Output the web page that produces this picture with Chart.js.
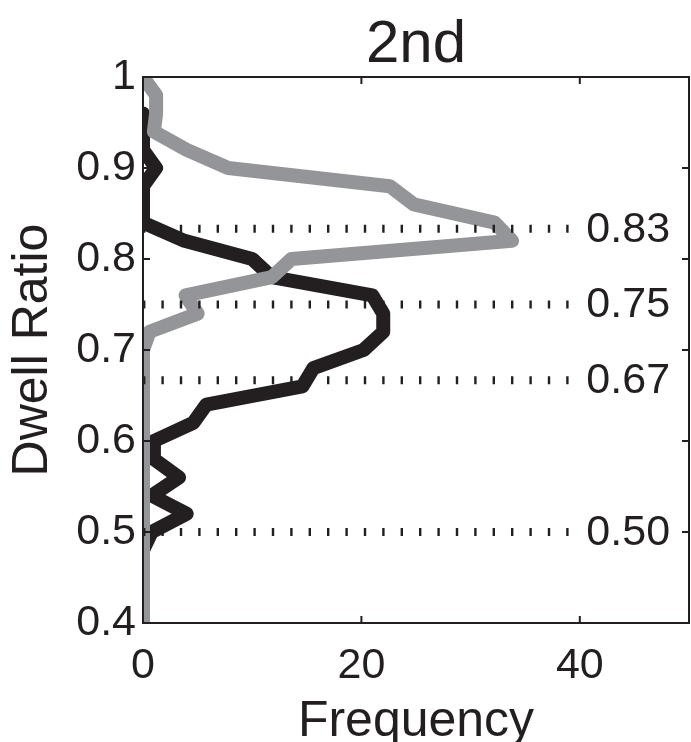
<!DOCTYPE html>
<html>
<head>
<meta charset="utf-8">
<script src="https://cdn.jsdelivr.net/npm/chart.js@4/dist/chart.umd.min.js"></script>
<style>
html, body { margin: 0; padding: 0; background: #fff; }
canvas { display: block; }
</style>
</head>
<body>
<canvas id="dwellChart" width="691" height="742"></canvas>
<script>
// dwell ratio bins (y) and frequency per bin (x) for the two traces
const dwellBins = [1.00, 0.98, 0.96, 0.94, 0.92, 0.90, 0.88, 0.86, 0.84, 0.82,
  0.80, 0.78, 0.76, 0.74, 0.72, 0.70, 0.68, 0.66, 0.64, 0.62,
  0.60, 0.58, 0.56, 0.54, 0.52, 0.50, 0.48, 0.46, 0.44, 0.42, 0.40]

const lightFreq = [0, 1.2, 1.2, 1.0, 4.0, 7.8, 22.6, 24.8, 32.2, 33.8,
  13.6, 11.8, 3.9, 5.0, 0.6, 0, 0, 0, 0, 0,
  0, 0, 0, 0, 0, 0, 0, 0, 0, 0, 0]

const darkFreq = [null, null, 0, 0, 0, 1.2, 0, 0, 0, 3.8,
  10.0, 11.8, 21.0, 22.0, 22.0, 20.2, 15.6, 14.6, 5.8, 4.6,
  1.0, 1.0, 3.3, 0.8, 4.0, 0.8, 0, 0, 0, 0, 0]

// reference ratios marked with dotted lines
const refRatios = [5 / 6, 3 / 4, 2 / 3, 1 / 2]
const refLineEnd = 39.3

const xTicks = [0, 20, 40]
const yTicks = [0.4, 0.5, 0.6, 0.7, 0.8, 0.9, 1]

const INK = "#231f20"
const GREY = "#939598"
const FONT = "'Liberation Sans', Arial, Helvetica, sans-serif"

function toPoints(freq){
  const pts = []
  dwellBins.forEach((r, i) => {
    if(freq[i] !== null){ pts.push({x: freq[i], y: r}) }
  })
  return pts
}

const refSets = refRatios.map(r => ({
  data: [{x: 0, y: r}, {x: refLineEnd, y: r}],
  showLine: true,
  borderColor: INK,
  borderWidth: 8,
  borderDash: [2.4, 16],
  borderCapStyle: "butt",
  pointRadius: 0,
  order: 0
}))

// box, inward ticks, title and ratio labels
const framePlugin = {
  id: "frame",
  afterDatasetsDraw(chart){
    const ctx = chart.ctx
    const a = chart.chartArea
    const xs = chart.scales.x
    const ys = chart.scales.y
    const tl = 7

    ctx.save()
    ctx.strokeStyle = INK
    ctx.lineWidth = 2
    ctx.strokeRect(a.left, a.top, a.right - a.left, a.bottom - a.top)

    ctx.beginPath()
    xTicks.forEach(v => {
      const px = xs.getPixelForValue(v)
      ctx.moveTo(px, a.bottom); ctx.lineTo(px, a.bottom - tl)
      ctx.moveTo(px, a.top); ctx.lineTo(px, a.top + tl)
    })
    yTicks.forEach(v => {
      const py = ys.getPixelForValue(v)
      ctx.moveTo(a.left, py); ctx.lineTo(a.left + tl, py)
      ctx.moveTo(a.right, py); ctx.lineTo(a.right - tl, py)
    })
    ctx.stroke()

    ctx.fillStyle = INK
    ctx.font = "43px " + FONT
    ctx.textAlign = "left"
    ctx.textBaseline = "middle"
    refRatios.forEach(r => {
      ctx.fillText(r.toFixed(2), xs.getPixelForValue(40.6), ys.getPixelForValue(r) + 1)
    })

    ctx.font = "60px " + FONT
    ctx.textAlign = "center"
    ctx.textBaseline = "alphabetic"
    ctx.fillText("2nd", (a.left + a.right) / 2, 62)
    ctx.restore()
  }
}

new Chart(document.getElementById("dwellChart"), {
  type: "scatter",
  data: {
    datasets: [
      ...refSets,
      {
        data: toPoints(lightFreq),
        showLine: true,
        borderColor: GREY,
        borderWidth: 14,
        borderJoinStyle: "round",
        pointRadius: 0,
        order: 1
      },
      {
        data: toPoints(darkFreq),
        showLine: true,
        borderColor: INK,
        borderWidth: 14,
        borderJoinStyle: "round",
        pointRadius: 0,
        order: 2
      }
    ]
  },
  options: {
    responsive: false,
    animation: false,
    devicePixelRatio: 1,
    layout: {padding: {top: 77, right: 2, left: 0, bottom: 0}},
    plugins: {
      legend: {display: false},
      tooltip: {enabled: false},
      title: {display: false}
    },
    scales: {
      x: {
        type: "linear",
        min: 0,
        max: 50,
        afterBuildTicks: s => { s.ticks = xTicks.map(v => ({value: v})) },
        afterFit: s => { s.height = 119 },
        ticks: {
          color: INK,
          font: {family: FONT, size: 43},
          padding: 17,
          maxRotation: 0,
          autoSkip: false
        },
        grid: {drawOnChartArea: false, drawTicks: false},
        border: {display: false},
        title: {
          display: true,
          text: "Frequency",
          color: INK,
          font: {family: FONT, size: 50, lineHeight: 0.6},
          padding: {top: 0, bottom: 5}
        }
      },
      y: {
        type: "linear",
        min: 0.4,
        max: 1,
        afterBuildTicks: s => { s.ticks = yTicks.map(v => ({value: v})) },
        afterFit: s => { s.width = 143 },
        ticks: {
          color: INK,
          font: {family: FONT, size: 43},
          padding: 7,
          callback: v => String(v)
        },
        grid: {drawOnChartArea: false, drawTicks: false},
        border: {display: false},
        title: {
          display: true,
          text: "Dwell Ratio",
          color: INK,
          font: {family: FONT, size: 50, lineHeight: 1.2},
          padding: {top: 3, bottom: 0}
        }
      }
    }
  },
  plugins: [framePlugin]
})
</script>
</body>
</html>
